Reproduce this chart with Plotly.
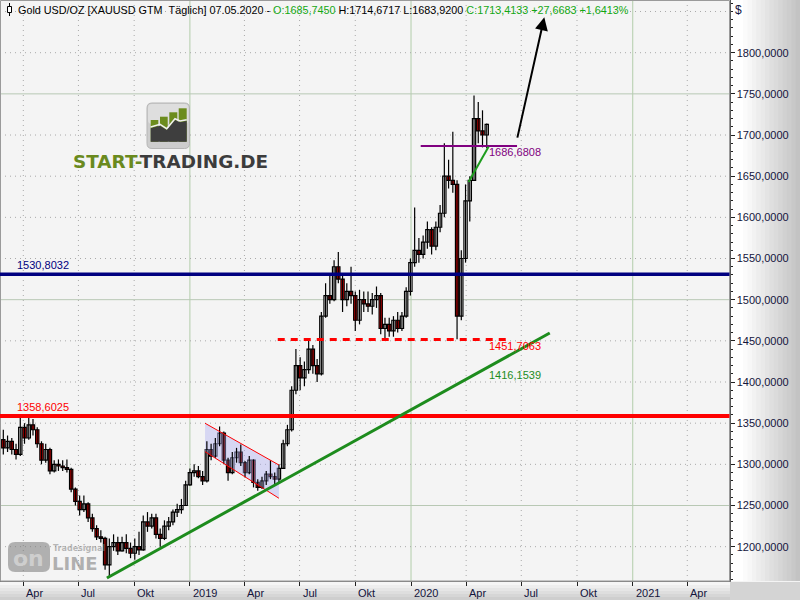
import plotly.graph_objects as go
import pandas as pd

# ---------------- data ----------------
week_start = "2018-02-20"
opens = [1325, 1330, 1320, 1328, 1318, 1312, 1345, 1332, 1348, 1342,
         1325, 1305, 1318, 1292, 1300, 1298, 1296, 1294, 1270, 1255,
         1245, 1252, 1235, 1222, 1212, 1210, 1178, 1200, 1205, 1195,
         1205, 1198, 1192, 1200, 1196, 1230, 1225, 1235, 1215, 1210,
         1225, 1230, 1242, 1245, 1250, 1275, 1290, 1292, 1285, 1280,
         1318, 1310, 1325, 1338, 1305, 1290, 1308, 1315, 1302, 1290,
         1305, 1278, 1272, 1280, 1288, 1285, 1282, 1295, 1325, 1342,
         1390, 1420, 1405, 1415, 1440, 1420, 1410, 1480, 1505, 1500,
         1540, 1525, 1500, 1510, 1505, 1475, 1500, 1495, 1492, 1500,
         1505, 1465, 1470, 1462, 1475, 1465, 1480, 1510, 1545, 1560,
         1555, 1570, 1585, 1565, 1588, 1605, 1650, 1645, 1640, 1480,
         1550, 1620, 1645, 1720, 1705, 1700]
highs = [1340, 1342, 1335, 1332, 1325, 1358, 1350, 1358, 1355, 1345,
         1328, 1325, 1320, 1305, 1306, 1305, 1306, 1296, 1272, 1262,
         1262, 1254, 1240, 1226, 1220, 1212, 1210, 1215, 1212, 1212,
         1215, 1205, 1210, 1218, 1238, 1242, 1240, 1240, 1222, 1232,
         1236, 1245, 1252, 1258, 1280, 1295, 1300, 1298, 1292, 1328,
         1325, 1332, 1346, 1340, 1308, 1315, 1320, 1324, 1304, 1310,
         1306, 1282, 1285, 1292, 1305, 1290, 1300, 1330, 1348, 1395,
         1440, 1430, 1425, 1450, 1445, 1428, 1485, 1520, 1530, 1548,
         1558, 1530, 1520, 1540, 1510, 1512, 1510, 1510, 1508, 1516,
         1508, 1478, 1478, 1480, 1485, 1485, 1515, 1550, 1612, 1575,
         1578, 1595, 1588, 1595, 1615, 1690, 1670, 1704, 1645, 1560,
         1640, 1650, 1748, 1740, 1730, 1714]
lows = [1315, 1312, 1315, 1312, 1306, 1310, 1325, 1330, 1335, 1320,
        1300, 1302, 1288, 1290, 1292, 1292, 1290, 1266, 1250, 1238,
        1242, 1230, 1218, 1208, 1205, 1172, 1162, 1195, 1190, 1194,
        1192, 1186, 1184, 1190, 1195, 1218, 1222, 1210, 1200, 1208,
        1220, 1226, 1236, 1240, 1250, 1274, 1285, 1283, 1275, 1278,
        1305, 1308, 1322, 1300, 1280, 1288, 1302, 1298, 1284, 1288,
        1272, 1268, 1270, 1275, 1282, 1275, 1278, 1295, 1322, 1340,
        1385, 1390, 1395, 1410, 1410, 1400, 1408, 1478, 1495, 1498,
        1520, 1485, 1492, 1495, 1462, 1470, 1485, 1485, 1482, 1490,
        1458, 1452, 1455, 1455, 1460, 1462, 1478, 1505, 1540, 1545,
        1550, 1562, 1555, 1560, 1582, 1600, 1635, 1630, 1452, 1475,
        1545, 1595, 1645, 1690, 1685, 1684]
closes = [1330, 1320, 1328, 1318, 1312, 1345, 1332, 1348, 1342, 1325,
          1305, 1318, 1292, 1300, 1298, 1296, 1294, 1270, 1255, 1245,
          1252, 1235, 1222, 1212, 1210, 1178, 1200, 1205, 1195, 1205,
          1198, 1192, 1200, 1196, 1230, 1225, 1235, 1215, 1210, 1225,
          1230, 1242, 1245, 1250, 1275, 1290, 1292, 1285, 1280, 1318,
          1310, 1325, 1338, 1305, 1290, 1308, 1315, 1302, 1290, 1305,
          1278, 1272, 1280, 1288, 1285, 1282, 1295, 1325, 1342, 1390,
          1420, 1405, 1415, 1440, 1420, 1410, 1480, 1505, 1500, 1540,
          1525, 1500, 1510, 1505, 1475, 1500, 1495, 1492, 1500, 1505,
          1465, 1470, 1462, 1475, 1465, 1480, 1510, 1545, 1560, 1555,
          1570, 1585, 1565, 1588, 1605, 1650, 1645, 1640, 1480, 1550,
          1620, 1645, 1720, 1705, 1700, 1713]
dates = pd.date_range(week_start, periods=len(closes), freq="7D")

y_ticks = [1200, 1250, 1300, 1350, 1400, 1450, 1500, 1550, 1600, 1650, 1700, 1750, 1800]
y_tick_labels = ["1200,0000", "1250,0000", "1300,0000", "1350,0000", "1400,0000",
                 "1450,0000", "1500,0000", "1550,0000", "1600,0000", "1650,0000",
                 "1700,0000", "1750,0000", "1800,0000"]
y_grid_extra = [1850]
y_grid_solid = [1250, 1500, 1750]
x_tick_dates = ["2018-04-01", "2018-07-01", "2018-10-01", "2019-01-01", "2019-04-01",
                "2019-07-01", "2019-10-01", "2020-01-01", "2020-04-01", "2020-07-01",
                "2020-10-01", "2021-01-01", "2021-04-01"]
x_tick_labels = ["Apr", "Jul", "Okt", "2019", "Apr", "Jul", "Okt", "2020", "Apr", "Jul",
                 "Okt", "2021", "Apr"]

red_level = 1358.6025
navy_level = 1530.8032
dashed_level = 1451.7063
dashed_dates = ["2019-05-26", "2020-06-15"]
purple_level = 1686.6808
purple_dates = ["2020-01-17", "2020-06-24"]
trend_dates = ["2018-08-17", "2020-08-17"]
trend_prices = [1162.0, 1459.5]
trend_value = 1416.1539
short_trend_dates = ["2020-04-05", "2020-05-08"]
short_trend_prices = [1642.9, 1685.8]
channel_dates = ["2019-01-26", "2019-05-28"]
channel_top = [1349.9, 1299.2]
channel_bottom = [1315.4, 1258.8]
arrow_dates = ["2020-06-24", "2020-08-08"]
arrow_prices = [1695.0, 1843.0]

header_name = "Gold USD/OZ [XAUUSD GTM&nbsp;&nbsp;Täglich] 07.05.2020 - "
hdr_open, hdr_high, hdr_low, hdr_close = 1685.7450, 1714.6717, 1683.9200, 1713.4133
hdr_change, hdr_change_pct = 27.6683, 1.6413

# ---------------- layout helpers ----------------
W, H = 800, 600
PLOT_R = 729.5
PLOT_B = 581.0
X_RANGE = ["2018-02-21 13:00", "2021-06-09 17:00"]
Y_RANGE = [1158.3, 1864.0]
BODY_MS = 5.4 * 86400000


def px(x):
    return x / W


def py(y):
    return 1 - y / H


def de(v, nd=4):
    return f"{v:.{nd}f}".replace(".", ",")


def hexgray(v):
    v = int(round(max(0, min(255, v))))
    return f"#{v:02x}{v:02x}{v:02x}"


fig = go.Figure()

# channel fill (below candles)
fig.add_trace(go.Scatter(
    x=[channel_dates[0], channel_dates[1], channel_dates[1], channel_dates[0]],
    y=[channel_top[0], channel_top[1], channel_bottom[1], channel_bottom[0]],
    fill="toself", fillcolor="rgba(175,175,240,0.42)", mode="lines",
    line=dict(width=0), hoverinfo="skip", showlegend=False))

# wicks
wx, wy = [], []
for d, lo, hi in zip(dates, lows, highs):
    wx += [d, d, None]
    wy += [lo, hi, None]
fig.add_trace(go.Scatter(x=wx, y=wy, mode="lines", line=dict(color="#000000", width=1.2),
                         hoverinfo="skip", showlegend=False))

# bodies
for rising, fill in [(True, "#ffffff"), (False, "#ff0000")]:
    bx, bbase, bh = [], [], []
    for d, o, c in zip(dates, opens, closes):
        if (c >= o) == rising:
            bx.append(d)
            bbase.append(min(o, c))
            bh.append(max(abs(c - o), 1.0))
    fig.add_trace(go.Bar(x=bx, y=bh, base=bbase, width=BODY_MS,
                         marker=dict(color=fill, line=dict(color="#000000", width=1.2)),
                         hoverinfo="skip", showlegend=False))

shapes = []
ybot = py(PLOT_B)

# grid
for d, lab in zip(x_tick_dates, x_tick_labels):
    if lab.isdigit():
        shapes.append(dict(type="line", xref="x", yref="paper", x0=d, x1=d, y0=ybot, y1=1,
                           line=dict(color="#b2cdaa", width=1), layer="below"))
    else:
        shapes.append(dict(type="line", xref="x", yref="paper", x0=d, x1=d, y0=ybot, y1=1,
                           line=dict(color="#a9a9a9", width=1, dash="1px,4px"), layer="below"))
for v in y_ticks + y_grid_extra:
    if v in y_grid_solid:
        shapes.append(dict(type="line", xref="paper", yref="y", x0=0, x1=px(PLOT_R), y0=v, y1=v,
                           line=dict(color="#b8c8b4", width=1), layer="below"))
    else:
        shapes.append(dict(type="line", xref="paper", yref="y", x0=0, x1=px(PLOT_R), y0=v, y1=v,
                           line=dict(color="#a9a9a9", width=1, dash="1px,4px"), layer="below"))

# right axis gradient
n = 16
for k in range(n):
    x0 = 730 + k * 70 / n
    x1 = 730 + (k + 1) * 70 / n
    t = max(0.0, ((x0 + x1) / 2 - 742) / 58)
    shapes.append(dict(type="rect", xref="paper", yref="paper", x0=px(x0), x1=px(x1) + 0.001,
                       y0=py(PLOT_B), y1=1, fillcolor=hexgray(255 - t * 62),
                       line=dict(width=0), layer="below"))
# bottom band gradient
m = 6
for k in range(m):
    y0 = 582 + k * 18 / m
    y1 = 582 + (k + 1) * 18 / m
    shapes.append(dict(type="rect", xref="paper", yref="paper", x0=0, x1=px(730),
                       y0=py(y1) - 0.001, y1=py(y0), fillcolor=hexgray(246 - k * 8),
                       line=dict(width=0), layer="below"))
shapes.append(dict(type="rect", xref="paper", yref="paper", x0=px(730), x1=1,
                   y0=0, y1=py(582), fillcolor="#d4d4d4", line=dict(width=0), layer="below"))
# frame
shapes.append(dict(type="rect", xref="paper", yref="paper", x0=px(0.5), x1=px(PLOT_R),
                   y0=py(PLOT_B), y1=py(0.5), line=dict(color="#9a9a9a", width=1), layer="above"))

# channel edges
shapes.append(dict(type="line", xref="x", yref="y", x0=channel_dates[0], x1=channel_dates[1],
                   y0=channel_top[0], y1=channel_top[1], line=dict(color="#ff0000", width=1), layer="above"))
shapes.append(dict(type="line", xref="x", yref="y", x0=channel_dates[0], x1=channel_dates[1],
                   y0=channel_bottom[0], y1=channel_bottom[1], line=dict(color="#ff0000", width=1), layer="above"))

# level lines
shapes.append(dict(type="line", xref="paper", yref="y", x0=0, x1=px(PLOT_R), y0=red_level, y1=red_level,
                   line=dict(color="#ff0000", width=4), layer="above"))
shapes.append(dict(type="line", xref="paper", yref="y", x0=0, x1=px(PLOT_R), y0=navy_level, y1=navy_level,
                   line=dict(color="#000080", width=3.5), layer="above"))
shapes.append(dict(type="line", xref="x", yref="y", x0=dashed_dates[0], x1=dashed_dates[1],
                   y0=dashed_level, y1=dashed_level,
                   line=dict(color="#ff0000", width=3, dash="7px,6px"), layer="above"))
shapes.append(dict(type="line", xref="x", yref="y", x0=purple_dates[0], x1=purple_dates[1],
                   y0=purple_level, y1=purple_level, line=dict(color="#800080", width=2), layer="above"))
shapes.append(dict(type="line", xref="x", yref="y", x0=trend_dates[0], x1=trend_dates[1],
                   y0=trend_prices[0], y1=trend_prices[1], line=dict(color="#1d8c1d", width=3), layer="above"))
shapes.append(dict(type="line", xref="x", yref="y", x0=short_trend_dates[0], x1=short_trend_dates[1],
                   y0=short_trend_prices[0], y1=short_trend_prices[1],
                   line=dict(color="#1d9c1d", width=2), layer="above"))

# header candle icon
shapes.append(dict(type="line", xref="paper", yref="paper", x0=px(9.5), x1=px(9.5), y0=py(16), y1=py(3),
                   line=dict(color="#000000", width=1), layer="above"))
shapes.append(dict(type="rect", xref="paper", yref="paper", x0=px(7.5), x1=px(11.5), y0=py(12.5), y1=py(6.5),
                   fillcolor="#ffffff", line=dict(color="#000000", width=1), layer="above"))


def path_px(points, close=True):
    s = ""
    for i, (x, y) in enumerate(points):
        s += ("M" if i == 0 else "L") + f"{px(x):.5f},{py(y):.5f}"
    return s + ("Z" if close else "")


def rounded_rect(x0, y0, x1, y1, r):
    return (f"M{px(x0 + r):.5f},{py(y0):.5f}L{px(x1 - r):.5f},{py(y0):.5f}"
            f"Q{px(x1):.5f},{py(y0):.5f} {px(x1):.5f},{py(y0 + r):.5f}"
            f"L{px(x1):.5f},{py(y1 - r):.5f}Q{px(x1):.5f},{py(y1):.5f} {px(x1 - r):.5f},{py(y1):.5f}"
            f"L{px(x0 + r):.5f},{py(y1):.5f}Q{px(x0):.5f},{py(y1):.5f} {px(x0):.5f},{py(y1 - r):.5f}"
            f"L{px(x0):.5f},{py(y0 + r):.5f}Q{px(x0):.5f},{py(y0):.5f} {px(x0 + r):.5f},{py(y0):.5f}Z")


# logo icon
shapes.append(dict(type="path", xref="paper", yref="paper", path=rounded_rect(147, 103, 189.5, 148.5, 5),
                   fillcolor="#cdcdcd", line=dict(color="#b5b5b5", width=1), layer="above"))
shapes.append(dict(type="path", xref="paper", yref="paper", path=rounded_rect(148, 104, 188.5, 124, 4),
                   fillcolor="#dedede", line=dict(width=0), layer="above"))
for (bx0, bx1, bt) in [(150.7, 158.3, 120), (160, 167.7, 116.7), (169.3, 177.3, 112.3), (178.7, 186.7, 108.3)]:
    shapes.append(dict(type="rect", xref="paper", yref="paper", x0=px(bx0), x1=px(bx1), y0=py(141.7), y1=py(bt),
                       fillcolor="#6c8c1e", line=dict(width=0), layer="above"))
zig = [(150.7, 128.3), (160, 125.7), (166.7, 130), (175, 120), (180, 122.3), (186.7, 121)]
shapes.append(dict(type="path", xref="paper", yref="paper",
                   path=path_px(zig + [(186.7, 141.7), (150.7, 141.7)]),
                   fillcolor="#3e3e3e", line=dict(width=0), layer="above"))
shapes.append(dict(type="path", xref="paper", yref="paper",
                   path=path_px([(x, y - 1.3) for x, y in zig], close=False),
                   line=dict(color="#f0f0f0", width=1.5), layer="above"))

# watermark
shapes.append(dict(type="path", xref="paper", yref="paper", path=rounded_rect(8, 542, 50, 572, 7),
                   fillcolor="rgba(120,120,120,0.55)", line=dict(width=0), layer="above"))

annotations = []
# x labels
for d, lab in zip(x_tick_dates, x_tick_labels):
    annotations.append(dict(x=d, xref="x", y=py(592.5), yref="paper", text=lab, showarrow=False,
                            xanchor="left", yanchor="middle", xshift=1,
                            font=dict(family="Liberation Sans", size=11, color="#14143c")))
# header
G = "#13a813"
header = (f"{header_name}<span style='color:{G}'>O:{de(hdr_open)}</span> H:{de(hdr_high)} "
          f"L:{de(hdr_low)} <span style='color:{G}'>C:{de(hdr_close)} +{de(hdr_change)} "
          f"+{de(hdr_change_pct)}%</span>")
annotations.append(dict(x=px(16), y=py(9.5), xref="paper", yref="paper", text=header, showarrow=False,
                        xanchor="left", yanchor="middle",
                        font=dict(family="Liberation Sans", size=10.8, color="#000000")))
annotations.append(dict(x=px(733), y=py(10), xref="paper", yref="paper", text="$", showarrow=False,
                        xanchor="left", yanchor="middle",
                        font=dict(family="Liberation Sans", size=12, color="#14143c")))
# level labels
lab_font = dict(family="Liberation Sans", size=11)
annotations.append(dict(x=px(15), y=red_level, xref="paper", yref="y", text=de(red_level), showarrow=False,
                        xanchor="left", yanchor="bottom", yshift=1, font=dict(lab_font, color="#ff0000")))
annotations.append(dict(x=px(15), y=navy_level, xref="paper", yref="y", text=de(navy_level), showarrow=False,
                        xanchor="left", yanchor="bottom", yshift=1, font=dict(lab_font, color="#000080")))
annotations.append(dict(x=px(487), y=py(152), xref="paper", yref="paper", text=de(purple_level), showarrow=False,
                        xanchor="left", yanchor="middle", font=dict(lab_font, color="#800080")))
annotations.append(dict(x=px(487), y=py(345.5), xref="paper", yref="paper", text=de(dashed_level),
                        showarrow=False, xanchor="left", yanchor="middle", font=dict(lab_font, color="#ff0000")))
annotations.append(dict(x=px(487), y=py(375), xref="paper", yref="paper", text=de(trend_value),
                        showarrow=False, xanchor="left", yanchor="middle", font=dict(lab_font, color="#1d8c1d")))
# arrow
annotations.append(dict(x=arrow_dates[1], y=arrow_prices[1], ax=arrow_dates[0], ay=arrow_prices[0],
                        xref="x", yref="y", axref="x", ayref="y", text="", showarrow=True,
                        arrowhead=2, arrowsize=1.3, arrowwidth=2, arrowcolor="#000000"))
# logo text
annotations.append(dict(x=px(71), y=py(161.5), xref="paper", yref="paper",
                        text="<b><span style='color:#6a8a1e'>START-</span>TRADING.DE</b>",
                        showarrow=False, xanchor="left", yanchor="middle",
                        font=dict(family="DejaVu Sans", size=18.4, color="#3c3c3c")))
# watermark text
annotations.append(dict(x=px(29), y=py(558), xref="paper", yref="paper", text="<b>on</b>", showarrow=False,
                        xanchor="center", yanchor="middle",
                        font=dict(family="DejaVu Sans", size=22, color="rgba(215,215,215,0.8)")))
annotations.append(dict(x=px(50), y=py(563), xref="paper", yref="paper", text="<b>LINE</b>", showarrow=False,
                        xanchor="left", yanchor="middle",
                        font=dict(family="DejaVu Sans", size=18, color="rgba(130,130,130,0.6)")))
annotations.append(dict(x=px(51), y=py(548), xref="paper", yref="paper", text="<b>Tradesignal</b>",
                        showarrow=False, xanchor="left", yanchor="middle",
                        font=dict(family="DejaVu Sans", size=8, color="rgba(140,140,140,0.6)")))

fig.update_layout(
    width=W, height=H, margin=dict(l=0, r=0, t=0, b=0),
    paper_bgcolor="#f4f4f4", plot_bgcolor="#f4f4f4",
    showlegend=False, shapes=shapes, annotations=annotations, barmode="overlay",
    xaxis=dict(type="date", range=X_RANGE, domain=[0, px(PLOT_R)], rangeslider=dict(visible=False),
               showgrid=False, zeroline=False, showline=True, linecolor="#7a7a7a", linewidth=1,
               tickmode="array", tickvals=x_tick_dates, ticks="outside", ticklen=4, tickcolor="#202020",
               showticklabels=False),
    yaxis=dict(range=Y_RANGE, domain=[py(PLOT_B), 1], side="right", showgrid=False, zeroline=False,
               showline=True, linecolor="#5a5a5a", linewidth=1,
               tickmode="array", tickvals=y_ticks, ticktext=y_tick_labels, ticks="outside", ticklen=4,
               tickcolor="#202020", tickfont=dict(family="Liberation Sans", size=11, color="#14143c"),
               minor=dict(tickmode="linear", tick0=1200, dtick=10, ticks="outside", ticklen=2,
                          tickcolor="#202020", showgrid=False)),
)

fig.write_html("out.html", config={"displayModeBar": False},
               post_script="document.body.style.margin='0';")
